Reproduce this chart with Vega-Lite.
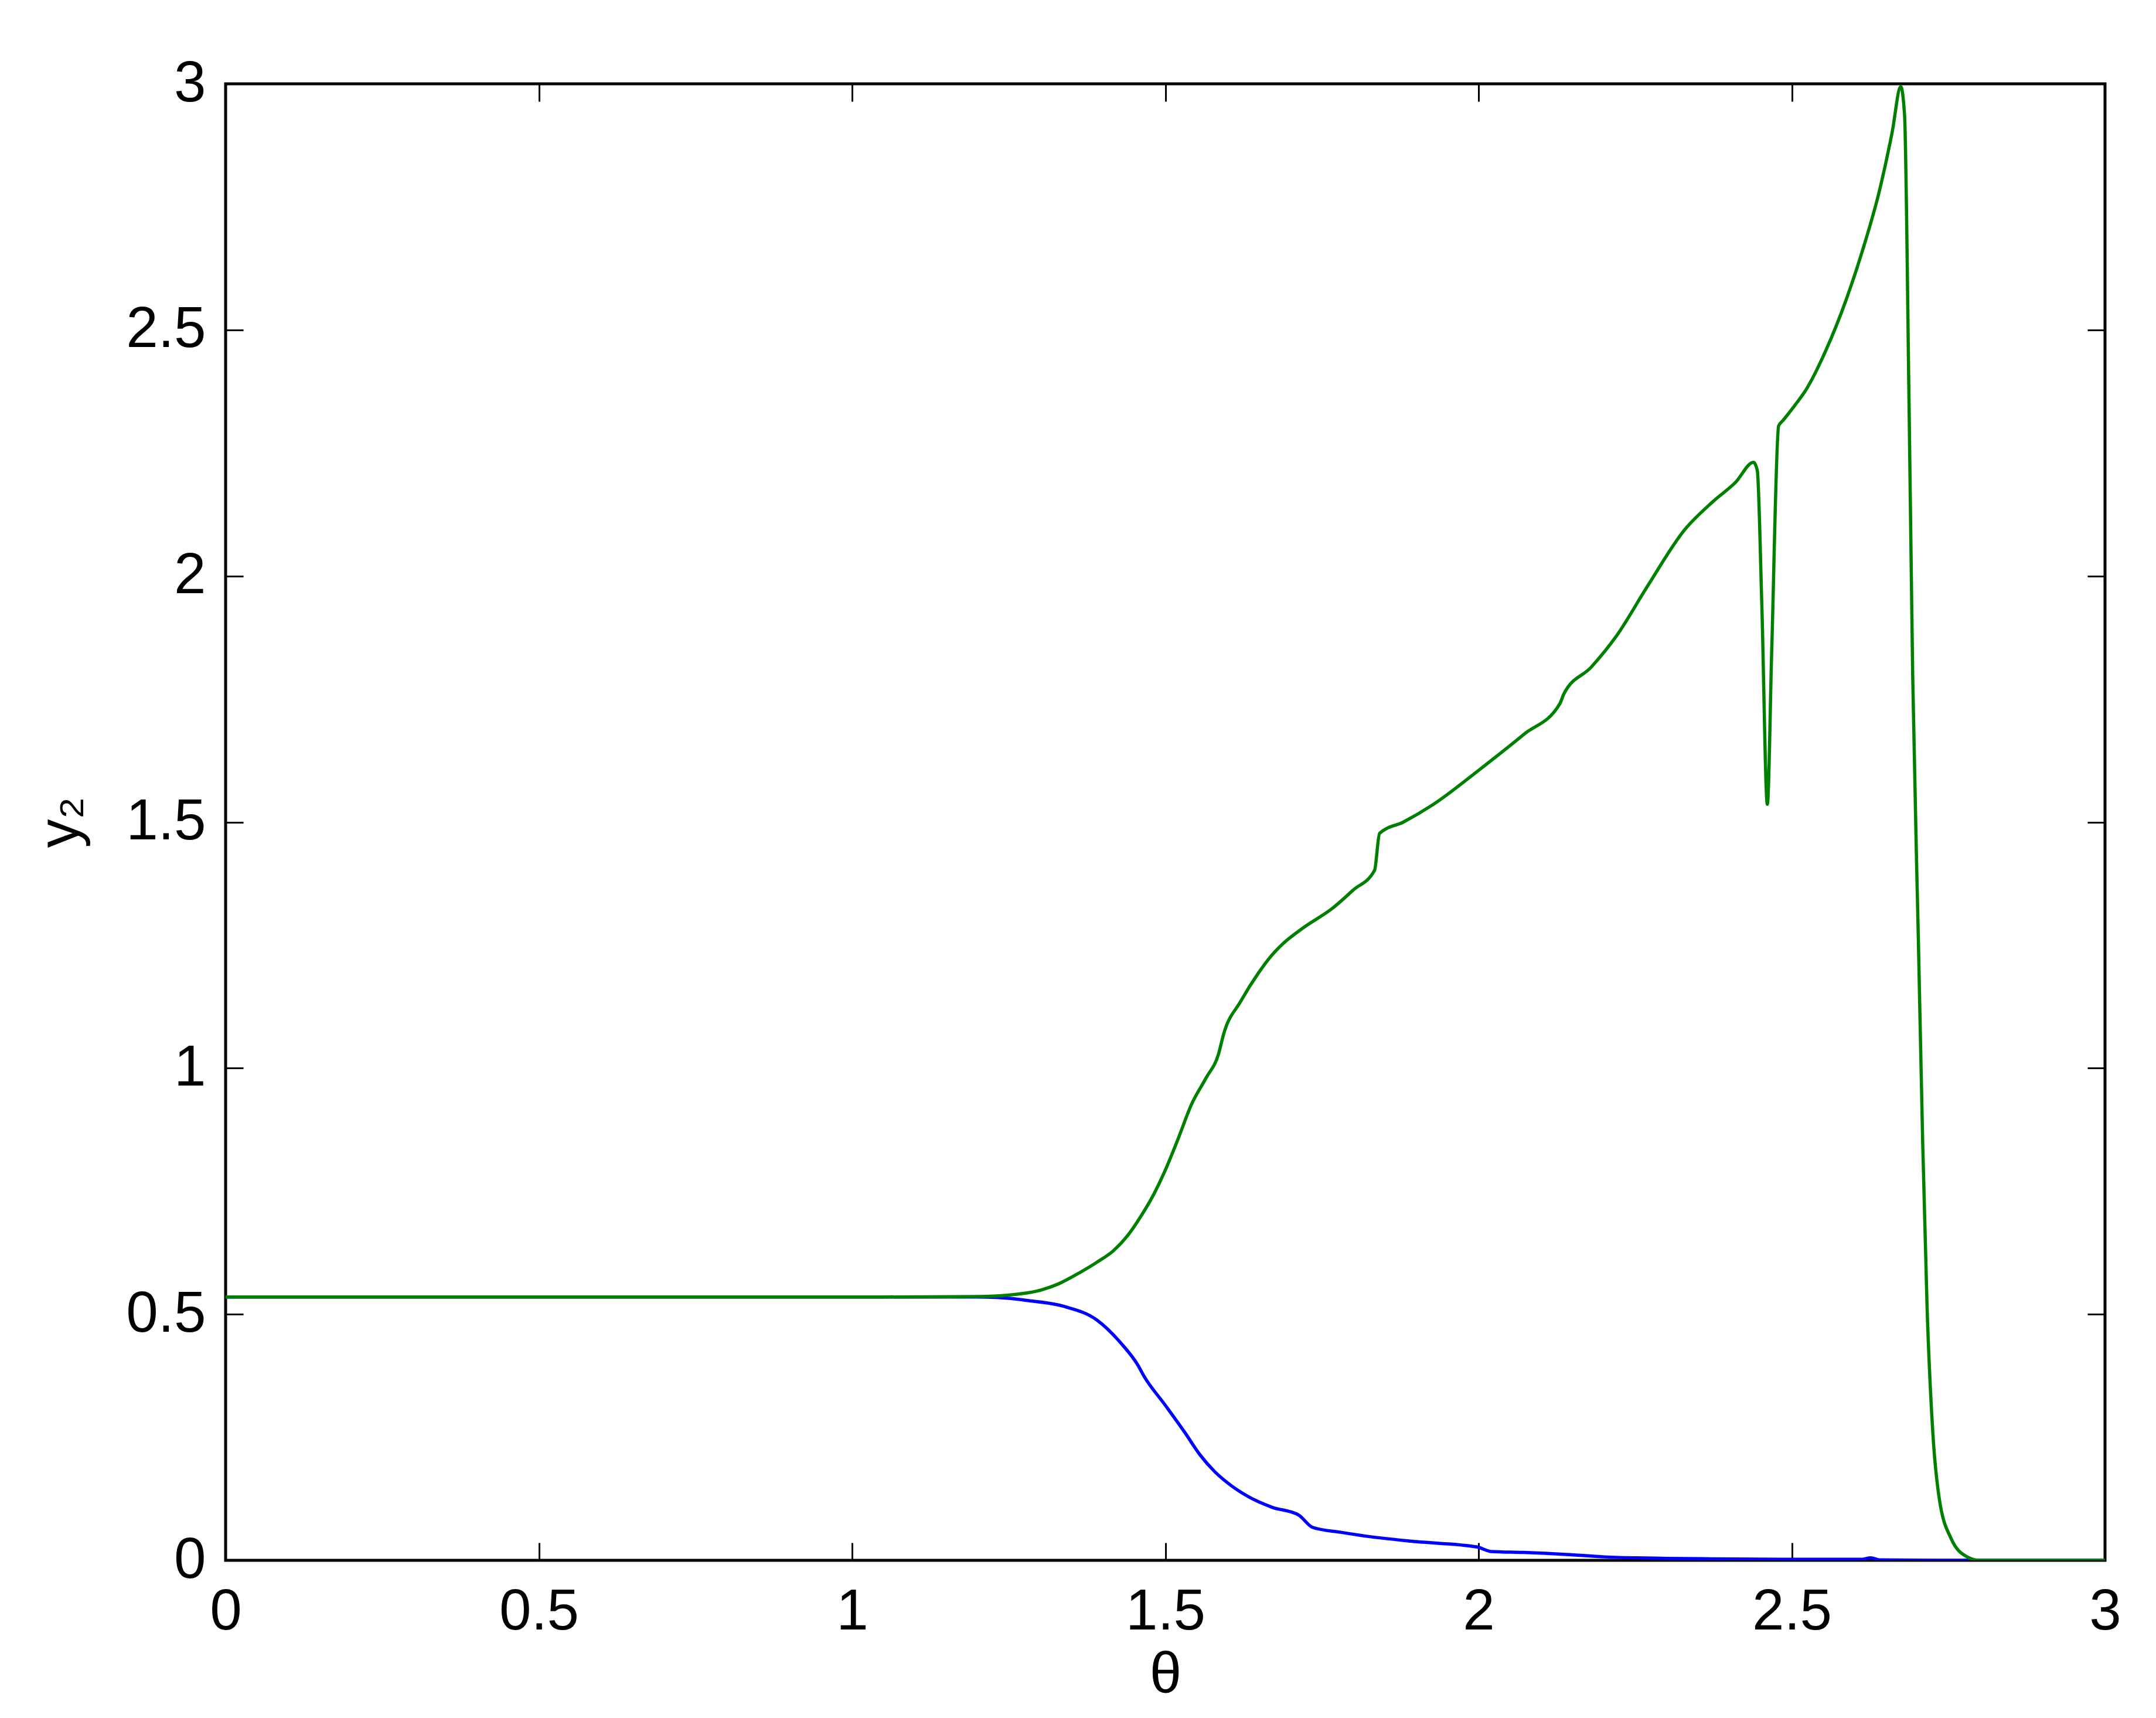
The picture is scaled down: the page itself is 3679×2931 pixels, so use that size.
{
  "$schema": "https://vega.github.io/schema/vega-lite/v6.json",
  "autosize": {"type": "none"},
  "width": 3207,
  "height": 2519,
  "padding": {"left": 385, "top": 143, "right": 87, "bottom": 269},
  "background": "white",
  "config": {
    "view": {"stroke": "#000", "strokeWidth": 5},
    "font": "Liberation Sans",
    "axis": {
      "domain": false,
      "grid": false,
      "tickColor": "#000",
      "tickWidth": 3,
      "tickSize": -30,
      "labelFont": "Liberation Sans",
      "labelFontSize": 98,
      "labelColor": "#000",
      "titleFont": "Liberation Sans",
      "titleFontSize": 98,
      "titleFontWeight": "normal",
      "titleColor": "#000"
    }
  },
  "data": {
    "values": [
      {"series": "a", "theta": 0, "y": 0.535},
      {"series": "a", "theta": 1.0, "y": 0.535},
      {"series": "a", "theta": 1.2, "y": 0.535},
      {"series": "a", "theta": 1.23, "y": 0.534},
      {"series": "a", "theta": 1.28, "y": 0.528},
      {"series": "a", "theta": 1.338, "y": 0.516},
      {"series": "a", "theta": 1.391, "y": 0.488},
      {"series": "a", "theta": 1.43, "y": 0.44},
      {"series": "a", "theta": 1.456, "y": 0.397},
      {"series": "a", "theta": 1.466, "y": 0.374},
      {"series": "a", "theta": 1.5, "y": 0.315},
      {"series": "a", "theta": 1.531, "y": 0.26},
      {"series": "a", "theta": 1.555, "y": 0.215},
      {"series": "a", "theta": 1.579, "y": 0.18},
      {"series": "a", "theta": 1.605, "y": 0.152},
      {"series": "a", "theta": 1.633, "y": 0.129},
      {"series": "a", "theta": 1.67, "y": 0.108},
      {"series": "a", "theta": 1.713, "y": 0.092},
      {"series": "a", "theta": 1.735, "y": 0.067},
      {"series": "a", "theta": 1.78, "y": 0.057},
      {"series": "a", "theta": 1.821, "y": 0.049},
      {"series": "a", "theta": 1.9, "y": 0.038},
      {"series": "a", "theta": 1.998, "y": 0.027},
      {"series": "a", "theta": 2.02, "y": 0.018},
      {"series": "a", "theta": 2.072, "y": 0.016},
      {"series": "a", "theta": 2.14, "y": 0.012},
      {"series": "a", "theta": 2.201, "y": 0.007},
      {"series": "a", "theta": 2.3, "y": 0.004},
      {"series": "a", "theta": 2.372, "y": 0.003},
      {"series": "a", "theta": 2.5, "y": 0.002},
      {"series": "a", "theta": 2.61, "y": 0.002},
      {"series": "a", "theta": 2.626, "y": 0.005},
      {"series": "a", "theta": 2.64, "y": 0.001},
      {"series": "a", "theta": 2.75, "y": 0.0},
      {"series": "a", "theta": 3.0, "y": 0.0},
      {"series": "b", "theta": 0, "y": 0.535},
      {"series": "b", "theta": 1.0, "y": 0.535},
      {"series": "b", "theta": 1.2, "y": 0.536},
      {"series": "b", "theta": 1.25, "y": 0.539},
      {"series": "b", "theta": 1.295, "y": 0.547},
      {"series": "b", "theta": 1.33, "y": 0.562},
      {"series": "b", "theta": 1.364, "y": 0.585},
      {"series": "b", "theta": 1.39, "y": 0.605},
      {"series": "b", "theta": 1.418, "y": 0.63},
      {"series": "b", "theta": 1.44, "y": 0.66},
      {"series": "b", "theta": 1.461, "y": 0.699},
      {"series": "b", "theta": 1.48, "y": 0.74},
      {"series": "b", "theta": 1.499, "y": 0.79},
      {"series": "b", "theta": 1.52, "y": 0.855},
      {"series": "b", "theta": 1.542, "y": 0.927},
      {"series": "b", "theta": 1.565, "y": 0.98},
      {"series": "b", "theta": 1.585, "y": 1.029},
      {"series": "b", "theta": 1.593, "y": 1.069},
      {"series": "b", "theta": 1.62, "y": 1.135},
      {"series": "b", "theta": 1.649, "y": 1.194},
      {"series": "b", "theta": 1.667, "y": 1.225},
      {"series": "b", "theta": 1.687, "y": 1.252},
      {"series": "b", "theta": 1.72, "y": 1.285},
      {"series": "b", "theta": 1.767, "y": 1.325},
      {"series": "b", "theta": 1.8, "y": 1.362},
      {"series": "b", "theta": 1.834, "y": 1.402},
      {"series": "b", "theta": 1.842, "y": 1.477},
      {"series": "b", "theta": 1.88, "y": 1.5},
      {"series": "b", "theta": 1.928, "y": 1.536},
      {"series": "b", "theta": 2.0, "y": 1.605},
      {"series": "b", "theta": 2.072, "y": 1.678},
      {"series": "b", "theta": 2.13, "y": 1.741},
      {"series": "b", "theta": 2.136, "y": 1.76},
      {"series": "b", "theta": 2.18, "y": 1.815},
      {"series": "b", "theta": 2.22, "y": 1.878},
      {"series": "b", "theta": 2.27, "y": 1.98},
      {"series": "b", "theta": 2.329, "y": 2.094},
      {"series": "b", "theta": 2.374, "y": 2.151},
      {"series": "b", "theta": 2.41, "y": 2.19},
      {"series": "b", "theta": 2.439, "y": 2.231},
      {"series": "b", "theta": 2.445, "y": 2.214},
      {"series": "b", "theta": 2.452, "y": 1.95},
      {"series": "b", "theta": 2.461, "y": 1.536},
      {"series": "b", "theta": 2.468, "y": 1.85},
      {"series": "b", "theta": 2.479, "y": 2.305},
      {"series": "b", "theta": 2.486, "y": 2.316},
      {"series": "b", "theta": 2.505, "y": 2.347},
      {"series": "b", "theta": 2.523, "y": 2.379},
      {"series": "b", "theta": 2.555, "y": 2.46},
      {"series": "b", "theta": 2.587, "y": 2.562},
      {"series": "b", "theta": 2.615, "y": 2.67},
      {"series": "b", "theta": 2.639, "y": 2.778},
      {"series": "b", "theta": 2.66, "y": 2.9},
      {"series": "b", "theta": 2.674, "y": 2.994},
      {"series": "b", "theta": 2.68, "y": 2.937},
      {"series": "b", "theta": 2.687, "y": 2.368},
      {"series": "b", "theta": 2.693, "y": 1.798},
      {"series": "b", "theta": 2.702, "y": 1.265},
      {"series": "b", "theta": 2.709, "y": 0.847},
      {"series": "b", "theta": 2.716, "y": 0.513},
      {"series": "b", "theta": 2.725, "y": 0.262},
      {"series": "b", "theta": 2.735, "y": 0.129},
      {"series": "b", "theta": 2.754, "y": 0.045},
      {"series": "b", "theta": 2.78, "y": 0.007},
      {"series": "b", "theta": 2.8, "y": 0.0},
      {"series": "b", "theta": 3.0, "y": 0.0}
    ]
  },
  "layer": [
    {
      "mark": {"type": "line", "strokeWidth": 5.5, "interpolate": "monotone", "clip": true},
      "encoding": {
        "x": {
          "field": "theta", "type": "quantitative",
          "scale": {"domain": [0, 3], "nice": false, "zero": false},
          "axis": {"orient": "bottom", "values": [0, 0.5, 1, 1.5, 2, 2.5, 3], "format": "~f", "labelPadding": 70, "title": "θ", "titlePadding": 10, "labelFlush": false}
        },
        "y": {
          "field": "y", "type": "quantitative",
          "scale": {"domain": [0, 3], "nice": false, "zero": false},
          "axis": {"orient": "left", "values": [0, 0.5, 1, 1.5, 2, 2.5, 3], "format": "~f", "labelPadding": 64, "title": "y₂", "titlePadding": 60, "labelFlush": false}
        },
        "color": {
          "field": "series", "type": "nominal",
          "scale": {"domain": ["a", "b"], "range": ["#0000ff", "#008000"]},
          "legend": null
        },
        "order": {"field": "theta", "type": "quantitative"}
      }
    },
    {
      "mark": {"type": "line", "strokeOpacity": 0},
      "encoding": {
        "x": {
          "field": "theta", "type": "quantitative",
          "axis": {"orient": "top", "values": [0, 0.5, 1, 1.5, 2, 2.5, 3], "labels": false, "title": null}
        },
        "y": {
          "field": "y", "type": "quantitative",
          "axis": {"orient": "right", "values": [0, 0.5, 1, 1.5, 2, 2.5, 3], "labels": false, "title": null}
        },
        "detail": {"field": "series", "type": "nominal"}
      }
    }
  ],
  "resolve": {"axis": {"x": "independent", "y": "independent"}}
}
